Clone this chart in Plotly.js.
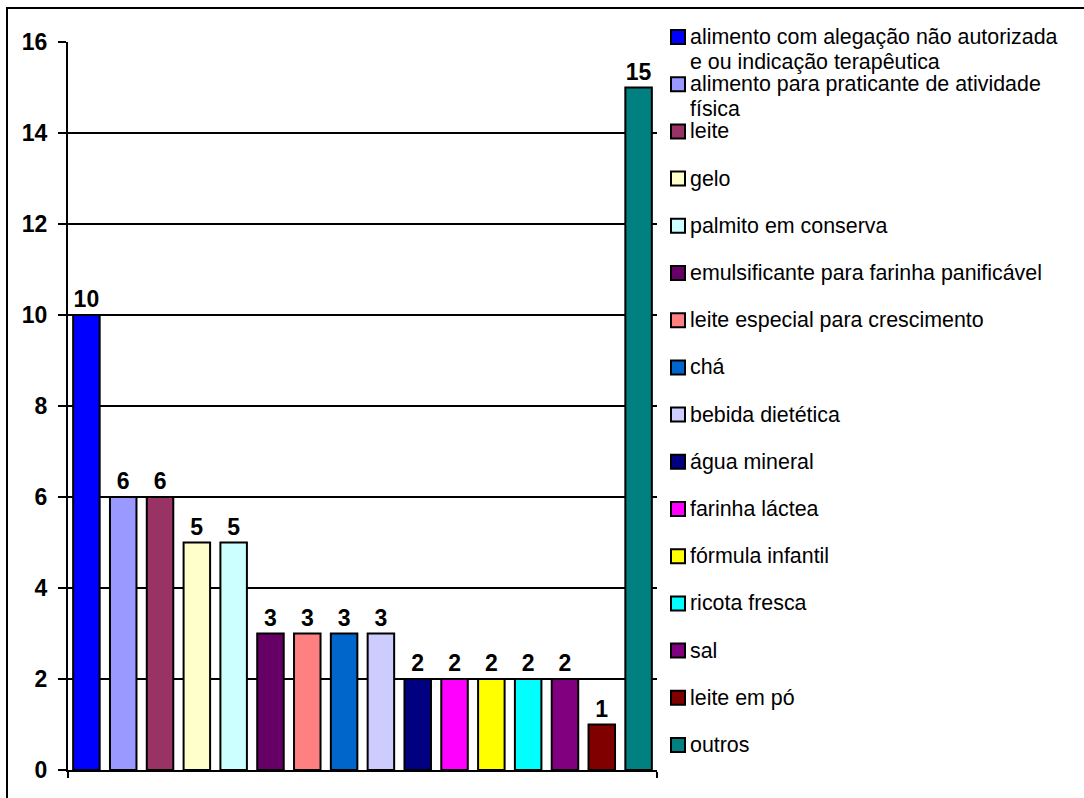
<!DOCTYPE html>
<html>
<head>
<meta charset="utf-8">
<script src="https://cdn.plot.ly/plotly-3.0.1.min.js"></script>
<style>
  html, body { margin: 0; padding: 0; background: #fff; }
  #chart { width: 1084px; height: 798px; }
</style>
</head>
<body>
<div id="chart"></div>
<script>
// ---- data ----
const categories = [
  "alimento com alegação não autorizada<br>e ou indicação terapêutica",
  "alimento para praticante de atividade<br>física",
  "leite",
  "gelo",
  "palmito em conserva",
  "emulsificante para farinha panificável",
  "leite especial para crescimento",
  "chá",
  "bebida dietética",
  "água mineral",
  "farinha láctea",
  "fórmula infantil",
  "ricota fresca",
  "sal",
  "leite em pó",
  "outros"
];
const counts = [10, 6, 6, 5, 5, 3, 3, 3, 3, 2, 2, 2, 2, 2, 1, 15];
const colors = [
  "#0000FF", "#9999FF", "#993366", "#FFFFCC", "#CCFFFF", "#660066",
  "#FF8080", "#0066CC", "#CCCCFF", "#000080", "#FF00FF", "#FFFF00",
  "#00FFFF", "#800080", "#800000", "#008080"
];
const yTicks = [0, 2, 4, 6, 8, 10, 12, 14, 16];

// ---- layout geometry ----
const W = 1084, H = 798;
const mL = 68, mR = 427, mT = 42, mB = 28;
const plotW = W - mL - mR, plotH = H - mT - mB;
const px = x => (x - mL) / plotW;            // pixel x -> paper x
const py = y => (H - mB - y) / plotH;        // pixel y -> paper y
const FONT = "Liberation Sans, Arial, Helvetica, sans-serif";

const xIdx = categories.map((_, i) => i);

const trace = {
  type: "bar",
  x: xIdx,
  y: counts,
  marker: { color: colors, line: { color: "#000", width: 2 } },
  text: counts.map(String),
  textposition: "outside",
  textfont: { family: FONT, size: 23, color: "#000", weight: "bold" },
  cliponaxis: false,
  hoverinfo: "x+y",
  showlegend: false
};

// legend built from categories & colors
const shapes = [];
const annotations = [];
const legTop = 37, legStep = 47.2, lineStep = 25;
categories.forEach((name, i) => {
  const cy = legTop + i * legStep;
  shapes.push({
    type: "rect", xref: "paper", yref: "paper",
    x0: px(671), x1: px(685), y0: py(cy + 7), y1: py(cy - 7),
    fillcolor: colors[i], line: { color: "#000", width: 2 }
  });
  name.split("<br>").forEach((line, k) => {
    annotations.push({
      xref: "paper", yref: "paper",
      x: px(689), y: py(cy + k * lineStep),
      xanchor: "left", yanchor: "middle", align: "left",
      text: line, showarrow: false, borderpad: 0,
      font: { family: FONT, size: 21.4, color: "#000" }
    });
  });
});
// outer frame (cropped on right and bottom in the reference)
shapes.push({
  type: "rect", xref: "paper", yref: "paper",
  x0: px(7), x1: px(1100), y0: py(815), y1: py(8),
  line: { color: "#000", width: 2 }, fillcolor: "rgba(0,0,0,0)", layer: "below"
});

const layout = {
  width: W, height: H,
  margin: { l: mL, r: mR, t: mT, b: mB, pad: 0 },
  paper_bgcolor: "#fff", plot_bgcolor: "#fff",
  bargap: 0.28,
  showlegend: false,
  xaxis: {
    type: "linear",
    range: [-0.5, categories.length - 0.5],
    showgrid: false, zeroline: false,
    showline: true, linecolor: "#000", linewidth: 2,
    tickmode: "array", tickvals: [-0.5, categories.length - 0.5], ticktext: ["", ""],
    ticks: "outside", ticklen: 6, tickwidth: 2, tickcolor: "#000",
    showticklabels: false, fixedrange: true
  },
  yaxis: {
    range: [0, 16],
    tickmode: "array", tickvals: yTicks, ticktext: yTicks.map(String),
    showgrid: true, gridcolor: "#000", gridwidth: 2,
    zeroline: false,
    showline: true, linecolor: "#000", linewidth: 2,
    ticks: "outside", ticklen: 8, tickwidth: 2, tickcolor: "#000",
    ticklabelstandoff: 6,
    tickfont: { family: FONT, size: 23, color: "#000", weight: "bold" },
    fixedrange: true
  },
  shapes: shapes,
  annotations: annotations,
  font: { family: FONT, color: "#000" }
};

Plotly.newPlot("chart", [trace], layout, { displayModeBar: false, staticPlot: true });
</script>
</body>
</html>
